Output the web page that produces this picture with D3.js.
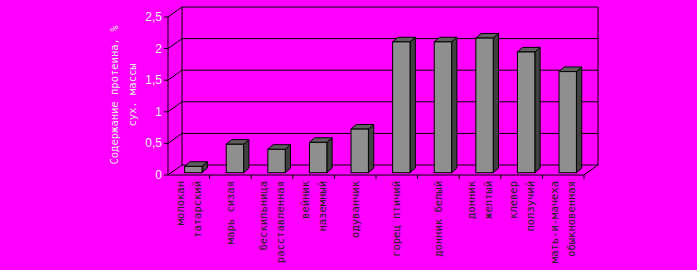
<!DOCTYPE html>
<html>
<head>
<meta charset="utf-8">
<script src="https://cdn.jsdelivr.net/npm/d3@7"></script>
<style>
  html, body { margin: 0; padding: 0; background: #ff00ff; }
  svg { display: block; }
</style>
</head>
<body>
<div id="chart"></div>
<script>
// подписи категорий (по строкам) и значения
var categories = [
    ['молокан', 'татарский'],
    ['марь сизая'],
    ['бескильница', 'расставленная'],
    ['вейник', 'наземный'],
    ['одуванчик'],
    ['горец птичий'],
    ['донник белый'],
    ['донник', 'желтый'],
    ['клевер', 'ползучий'],
    ['мать-и-мачеха', 'обыкновенная']
];
var values = [0.1, 0.45, 0.37, 0.48, 0.69, 2.07, 2.07, 2.13, 1.91, 1.6];
var yTicks = [0, 0.5, 1, 1.5, 2, 2.5];
var yTickLabels = ['0', '0,5', '1', '1,5', '2', '2,5'];
var yTitle = ['Содержание протеина, %', 'сух. массы'];

var width = 697, height = 270;
var wall = { dx: 14, dy: -10 };   // глубина стенок
var bar3d = { dx: 5.3, dy: -4.6 }; // глубина столбика
var font = 'Liberation Sans, Arial, sans-serif';
var monoFont = 'DejaVu Sans Mono, Liberation Mono, monospace';

var svg = d3.select('#chart').append('svg')
    .attr('width', width)
    .attr('height', height);

var names = categories.map(function (d) { return d.join(' '); });

var x = d3.scaleBand()
    .domain(names)
    .range([168, 584])
    .padding(0);

var y = d3.scaleLinear()
    .domain([0, 2.5])
    .range([175, 17]);

var x0 = x.range()[0], x1 = x.range()[1];
var g = svg.append('g');

// задняя стенка и линии сетки
yTicks.forEach(function (t) {
    var yy = y(t);
    g.append('line')
        .attr('x1', x0).attr('y1', yy)
        .attr('x2', x0 + wall.dx).attr('y2', yy + wall.dy)
        .attr('stroke', '#000');
    g.append('line')
        .attr('x1', x0 + wall.dx).attr('y1', yy + wall.dy)
        .attr('x2', x1 + wall.dx).attr('y2', yy + wall.dy)
        .attr('stroke', '#000');
});
// вертикальные рёбра
g.append('line')
    .attr('x1', x0 + wall.dx).attr('y1', y(2.5) + wall.dy)
    .attr('x2', x0 + wall.dx).attr('y2', y(0) + wall.dy)
    .attr('stroke', '#000');
g.append('line')
    .attr('x1', x1 + wall.dx).attr('y1', y(2.5) + wall.dy)
    .attr('x2', x1 + wall.dx).attr('y2', y(0) + wall.dy)
    .attr('stroke', '#000');
g.append('line')
    .attr('x1', x1).attr('y1', y(0))
    .attr('x2', x1 + wall.dx).attr('y2', y(0) + wall.dy)
    .attr('stroke', '#000');

// ось Y
g.append('line')
    .attr('x1', x0).attr('y1', y(2.5))
    .attr('x2', x0).attr('y2', y(0))
    .attr('stroke', '#000');
yTicks.forEach(function (t, i) {
    g.append('line')
        .attr('x1', x0 - 4).attr('y1', y(t))
        .attr('x2', x0).attr('y2', y(t))
        .attr('stroke', '#000');
    g.append('text')
        .attr('x', x0 - 6)
        .attr('y', y(t) + 4)
        .attr('text-anchor', 'end')
        .style('font-family', font)
        .style('font-size', '12px')
        .attr('fill', '#f2f2f2')
        .text(yTickLabels[i]);
});

// ось X
g.append('line')
    .attr('x1', x0).attr('y1', y(0))
    .attr('x2', x1).attr('y2', y(0))
    .attr('stroke', '#000');
names.forEach(function (n, i) {
    if (i > 0) {
        g.append('line')
            .attr('x1', x(n)).attr('y1', y(0))
            .attr('x2', x(n)).attr('y2', y(0) + 4)
            .attr('stroke', '#000');
    }
});
g.append('line')
    .attr('x1', x1).attr('y1', y(0))
    .attr('x2', x1).attr('y2', y(0) + 4)
    .attr('stroke', '#000');

// столбики
var barOffset = 0.4, barWidth = 0.418;
var baseShift = -2.3;
names.forEach(function (n, i) {
    var bx = x(n) + x.bandwidth() * barOffset;
    var bw = x.bandwidth() * barWidth;
    var top = y(values[i]) + baseShift;
    var bottom = y(0) + baseShift;
    var bar = g.append('g');
    // боковая грань
    bar.append('path')
        .attr('d', 'M' + (bx + bw) + ',' + bottom +
            'L' + (bx + bw + bar3d.dx) + ',' + (bottom + bar3d.dy) +
            'L' + (bx + bw + bar3d.dx) + ',' + (top + bar3d.dy) +
            'L' + (bx + bw) + ',' + top + 'Z')
        .attr('fill', '#404040')
        .attr('stroke', '#000');
    // верхняя грань
    bar.append('path')
        .attr('d', 'M' + bx + ',' + top +
            'L' + (bx + bar3d.dx) + ',' + (top + bar3d.dy) +
            'L' + (bx + bw + bar3d.dx) + ',' + (top + bar3d.dy) +
            'L' + (bx + bw) + ',' + top + 'Z')
        .attr('fill', '#5f5f5f')
        .attr('stroke', '#000');
    // передняя грань
    bar.append('rect')
        .attr('x', bx).attr('y', top)
        .attr('width', bw).attr('height', bottom - top)
        .attr('fill', '#8f8f8f')
        .attr('stroke', '#000');
});

// подписи категорий (повёрнутые)
var lineGap = 17, fs = 10.5;
categories.forEach(function (lines, i) {
    var cx = x(names[i]) + x.bandwidth() / 2;
    lines.forEach(function (t, j) {
        var lx = cx + (j - (lines.length - 1) / 2) * lineGap + fs * 0.35;
        g.append('text')
            .attr('transform', 'translate(' + lx + ',' + 181 + ') rotate(-90)')
            .attr('text-anchor', 'end')
            .style('font-family', monoFont)
            .style('font-size', fs + 'px')
            .attr('fill', '#222')
            .text(t);
    });
});

// заголовок оси Y
yTitle.forEach(function (t, j) {
    g.append('text')
        .attr('transform', 'translate(' + (118 + j * 18) + ',' + 95 + ') rotate(-90)')
        .attr('text-anchor', 'middle')
        .style('font-family', monoFont)
        .style('font-size', '10.5px')
        .attr('fill', '#e6e6e6')
        .text(t);
});
</script>
</body>
</html>
